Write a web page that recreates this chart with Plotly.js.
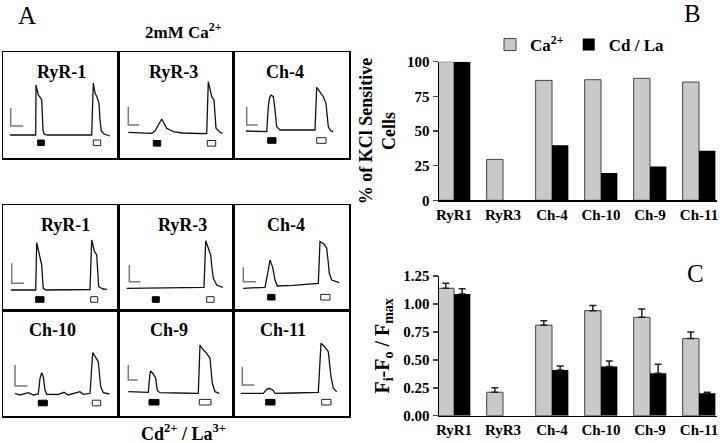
<!DOCTYPE html>
<html>
<head>
<meta charset="utf-8">
<script src="https://cdn.plot.ly/plotly-3.0.1.min.js"></script>
<style>html,body{margin:0;padding:0;background:#fff;}#chart{width:720px;height:443px;}</style>
</head>
<body>
<div id="chart"></div>
<script>
// ---------- Panel B / C data ----------
const categories = ['RyR1', 'RyR3', 'Ch-4', 'Ch-10', 'Ch-9', 'Ch-11'];
const pctCa   = [100, 29.5, 86.5, 87, 88, 85.3];
const pctCdLa = [100, 0, 39.7, 19.7, 24.3, 35.8];
const ampCa      = [1.14, 0.21, 0.81, 0.94, 0.88, 0.69];
const ampCaErr   = [0.045, 0.04, 0.04, 0.045, 0.075, 0.06];
const ampCdLa    = [1.09, null, 0.41, 0.44, 0.38, 0.20];
const ampCdLaErr = [0.045, null, 0.035, 0.05, 0.08, 0.01];
const bTicks = [0, 25, 50, 75, 100];
const cTicks = [0, 0.25, 0.5, 0.75, 1.0, 1.25];

// ---------- Panel A data (time in a.u., fluorescence change in a.u.) ----------
const cellNames = ['RyR-1', 'RyR-3', 'Ch-4', 'RyR-1', 'RyR-3', 'Ch-4', 'Ch-10', 'Ch-9', 'Ch-11'];
const tCaRyR1 = [7,20,32.7,33,35.3,37,38.7,40,41,44,60,75,88.7,90.3,92,94,96,97,98.3,101,107];
const fCaRyR1 = [0,0,0,50,40,38,35,5,1,0,0,0,0,52,42,38,32,15,4,1,-1];
const tCaRyR3 = [10.3,20,33.7,37,40.3,43.7,45.3,48.7,55.3,65,80,88.7,90.3,92,93.7,96,97,98,102,104.7];
const fCaRyR3 = [2.7,2,1.7,4,10,16,13,6.7,3.3,2,1.5,1.3,53.3,45,38.3,35,20,6.7,2.7,1.7];
const tCaCh4  = [13,25,33.7,35.3,36.5,38,40.3,42,43.7,47,65,82,83.7,87,90.3,93,94.2,95.3,97.7,100.3];
const fCaCh4  = [4,3.7,3.3,28.3,37,40,38.3,25,8.3,5,5,5,47.7,43.3,38.3,31.7,20,8.3,4,3.3];
const tCdRyR1 = [8,20,32.7,33.7,35.5,37,38.7,39.5,40.3,43,65,87,88.7,90,91.3,93.7,94.7,95.7,100,104];
const fCdRyR1 = [-2,-2,-2,45.3,38,31.3,23,10,-0.3,-2,-1.8,-1.5,48,42,37,33,18,1.3,-1,-1.3];
const tCdRyR3 = [8.7,30,60,86,87.7,90.3,92.7,94,95.3,98.7,104.7];
const fCdRyR3 = [-0.3,0,0.3,0.7,47.3,39.7,33,20,9.7,3,0.7];
const tCdCh4  = [10.3,32,35.3,37,39.7,42,44.3,60,85.3,87,91,93.7,95,96.3,98.7,106.3];
const fCdCh4  = [-0.3,0.7,18,28,20.7,8,2,2.7,4.7,46.3,44,39.7,28,14.7,8,5.3];
const tCdCh10 = [12,17,25.3,30.3,35.3,37,38.7,40.3,42,43.7,55,61,65.3,77,80.3,87,89.7,93,95.3,97.7,100.3,106.3];
const fCdCh10 = [-0.3,-2,0.3,-2,-1,14.7,20.3,16.3,3,-1.3,-1.5,0.7,-2,1.3,-1.3,-0.3,40.3,34.7,31.3,6.3,0.3,-1];
const tCdCh9  = [10.3,30.3,32,32.7,35.3,37.7,39.3,42,60,80.3,82,85.3,88.7,92,94.3,97,101.3];
const fCdCh9  = [1.3,0.7,19.7,22,19,14.7,2.3,0.3,0,-0.3,48,43,39.7,34.7,9.7,1.3,-0.3];
const tCdCh11 = [7.7,30.3,33.7,36.3,39.7,42,60,85.3,88,92,95.3,98,100.3,103.7];
const fCdCh11 = [-0.3,-0.3,3.7,4.7,3,-0.3,0,0.7,49.7,45.7,41.3,16.3,4.7,1.3];
const cellTimes = [tCaRyR1, tCaRyR3, tCaCh4, tCdRyR1, tCdRyR3, tCdCh4, tCdCh10, tCdCh9, tCdCh11];
const cellSignals = [fCaRyR1, fCaRyR3, fCaCh4, fCdRyR1, fCdRyR3, fCdCh4, fCdCh10, fCdCh9, fCdCh11];
// scale bars: [time start, time end, signal bottom, signal top]
const scaleBars = [[7.7,20.3,9,27],[10.3,21.3,10,28.3],[13.7,24.7,10,28.3],
                   [8.7,21,4.7,24.7],[11.3,22,6.3,23],[10.3,23,6.3,20.7],
                   [12,24.3,7,28],[10.3,19.7,13,28],[9.3,21.3,8,26.3]];
// stimulus periods: first (filled) and second (open)
const stim1 = [[34.7,41.3],[35.3,42.7],[34.7,43],[32.7,41],[34.3,41.3],[34.7,42],[35.3,44.3],[31,41],[32.7,42]];
const stim2 = [[90.3,97.7],[89.3,97.7],[83.7,93],[87.7,94.7],[88.7,96],[87.7,97],[89.3,97.7],[81.3,93],[88.7,98]];
const stimLevel = [-7.8,-8.3,-5.5,-11.5,-11.5,-9.2,-10,-9.2,-9.2];
const labelPos = [[58,63.5],[55.3,63.5],[52,63.5],[62.7,63.5],[64.7,63.5],[53,63.5],[49.3,63.5],[51.3,63.5],[49.7,63.5]];

// ---------- layout geometry (pixels) ----------
const W = 720, H = 443;
const colEdges = [3, 118, 233, 349];
const rowEdges = [[52, 158], [205, 310], [310, 416]];
const px = v => v / W, py = v => 1 - v / H;
const FONT = 'Liberation Serif, Times New Roman, serif';

const data = [];
const layout = {
  width: W, height: H,
  margin: {l: 0, r: 0, t: 0, b: 0},
  paper_bgcolor: '#fff', plot_bgcolor: 'rgba(0,0,0,0)',
  font: {family: FONT, color: '#000', size: 15},
  showlegend: true,
  barmode: 'group', bargap: 0.333, bargroupgap: 0,
  legend: {orientation: 'h', x: px(490), xanchor: 'left', y: py(27), yanchor: 'top',
           font: {family: FONT, size: 17, color: '#000'}, bgcolor: 'rgba(0,0,0,0)', itemwidth: 30,
           traceorder: 'normal'},
  annotations: [],
  shapes: []
};

// ---------- Panel B ----------
const xCat = {
  type: 'category', categoryorder: 'array', categoryarray: categories,
  range: [-0.306, 5.367], domain: [px(439), px(717)],
  showline: true, linecolor: '#000', linewidth: 1.5, ticks: '', showgrid: false, zeroline: false,
  tickfont: {family: FONT, size: 15, color: '#000', weight: 'bold'}
};
layout.xaxis = Object.assign({}, xCat, {anchor: 'y'});
layout.yaxis = {
  anchor: 'x', domain: [py(200.3), py(61.7)], range: [0, 100],
  tickvals: bTicks, ticktext: bTicks.map(String),
  showline: true, linecolor: '#000', linewidth: 1.5, ticks: 'outside', ticklen: 5, tickwidth: 1.5,
  showgrid: false, zeroline: false,
  tickfont: {family: FONT, size: 15, color: '#000', weight: 'bold'},
  title: {text: '<b>% of KCl Sensitive<br>Cells</b>', font: {family: FONT, size: 18, color: '#000'}, standoff: 6.5}
};
data.push({type: 'bar', name: '<b>Ca<sup>2+</sup></b>', x: categories, y: pctCa, xaxis: 'x', yaxis: 'y',
  marker: {color: '#c9c9c9', line: {color: '#444', width: 1}}});
data.push({type: 'bar', name: '<b>Cd / La</b>', x: categories, y: pctCdLa, xaxis: 'x', yaxis: 'y',
  marker: {color: '#000', line: {width: 0}}});

// ---------- Panel C ----------
layout.xaxis2 = Object.assign({}, xCat, {anchor: 'y2'});
layout.yaxis2 = {
  anchor: 'x2', domain: [py(415.7), py(276)], range: [0, 1.25],
  tickvals: cTicks, ticktext: cTicks.map(v => v.toFixed(2)),
  showline: true, linecolor: '#000', linewidth: 1.5, ticks: 'outside', ticklen: 5, tickwidth: 1.5,
  showgrid: false, zeroline: false,
  tickfont: {family: FONT, size: 15, color: '#000', weight: 'bold'},
  title: {text: '<b>F<sub>i</sub>-F<sub>o</sub> / F<sub>max</sub></b>', font: {family: FONT, size: 20, color: '#000'}, standoff: 8}
};
data.push({type: 'bar', name: 'Ca', x: categories, y: ampCa, xaxis: 'x2', yaxis: 'y2', showlegend: false,
  marker: {color: '#c9c9c9', line: {color: '#444', width: 1}},
  error_y: {type: 'data', symmetric: false, array: ampCaErr, arrayminus: ampCaErr.map(() => 0),
            color: '#222', thickness: 1.5, width: 3.5}});
data.push({type: 'bar', name: 'Cd/La', x: categories, y: ampCdLa, xaxis: 'x2', yaxis: 'y2', showlegend: false,
  marker: {color: '#000', line: {width: 0}},
  error_y: {type: 'data', symmetric: false, array: ampCdLaErr, arrayminus: ampCdLaErr.map(v => v === null ? null : 0),
            visible: true, color: '#222', thickness: 1.5, width: 3.5}});

// ---------- Panel A cells ----------
for (let i = 0; i < 9; i++) {
  const r = Math.floor(i / 3), c = i % 3;
  const ax = i + 3;
  const xa = 'x' + ax, ya = 'y' + ax;
  const top = rowEdges[r][0], bot = rowEdges[r][1];
  const h = bot - top;
  layout['xaxis' + ax] = {
    anchor: ya, domain: [px(colEdges[c]), px(colEdges[c + 1])], range: [0, colEdges[c + 1] - colEdges[c]],
    showline: true, mirror: true, linecolor: '#000', linewidth: 1.5,
    showticklabels: false, ticks: '', showgrid: false, zeroline: false, fixedrange: true
  };
  layout['yaxis' + ax] = {
    anchor: xa, domain: [py(bot), py(top)], range: [83 - h, 83],
    showline: true, mirror: true, linecolor: '#000', linewidth: 1.5,
    showticklabels: false, ticks: '', showgrid: false, zeroline: false, fixedrange: true
  };
  // calcium trace
  data.push({type: 'scatter', mode: 'lines', x: cellTimes[i], y: cellSignals[i], xaxis: xa, yaxis: ya,
    line: {color: '#111', width: 1.3}, showlegend: false, hoverinfo: 'skip'});
  // scale bar
  const sb = scaleBars[i];
  data.push({type: 'scatter', mode: 'lines', x: [sb[0], sb[0], sb[1]], y: [sb[3], sb[2], sb[2]], xaxis: xa, yaxis: ya,
    line: {color: '#7a7a7a', width: 1.5}, showlegend: false, hoverinfo: 'skip'});
  // stimulus markers
  const lv = stimLevel[i], hh = 2.8;
  const s1 = stim1[i], s2 = stim2[i];
  data.push({type: 'scatter', mode: 'lines', fill: 'toself', fillcolor: '#000',
    x: [s1[0], s1[1], s1[1], s1[0], s1[0]], y: [lv - hh, lv - hh, lv + hh, lv + hh, lv - hh],
    xaxis: xa, yaxis: ya, line: {color: '#000', width: 1}, showlegend: false, hoverinfo: 'skip'});
  data.push({type: 'scatter', mode: 'lines', fill: 'toself', fillcolor: '#fff',
    x: [s2[0], s2[1], s2[1], s2[0], s2[0]], y: [lv - hh, lv - hh, lv + hh, lv + hh, lv - hh],
    xaxis: xa, yaxis: ya, line: {color: '#222', width: 1}, showlegend: false, hoverinfo: 'skip'});
  // cell label
  layout.annotations.push({xref: xa, yref: ya, x: labelPos[i][0], y: labelPos[i][1], text: '<b>' + cellNames[i] + '</b>',
    showarrow: false, font: {family: FONT, size: 18, color: '#000'}, xanchor: 'center', yanchor: 'middle'});
}

// ---------- panel letters and group titles ----------
const texts = [
  {x: 27, y: 15, t: 'A', s: 25},
  {x: 692, y: 13, t: 'B', s: 25},
  {x: 695, y: 273, t: 'C', s: 25},
  {x: 183, y: 31, t: '<b>2mM Ca<sup>2+</sup></b>', s: 17},
  {x: 183, y: 432, t: '<b>Cd<sup>2+</sup> / La<sup>3+</sup></b>', s: 18}
];
texts.forEach(o => layout.annotations.push({xref: 'paper', yref: 'paper', x: px(o.x), y: py(o.y), text: o.t,
  showarrow: false, xanchor: 'center', yanchor: 'middle', font: {family: FONT, size: o.s, color: '#000'}}));

Plotly.newPlot('chart', data, layout, {displayModeBar: false, staticPlot: true});
</script>
</body>
</html>
